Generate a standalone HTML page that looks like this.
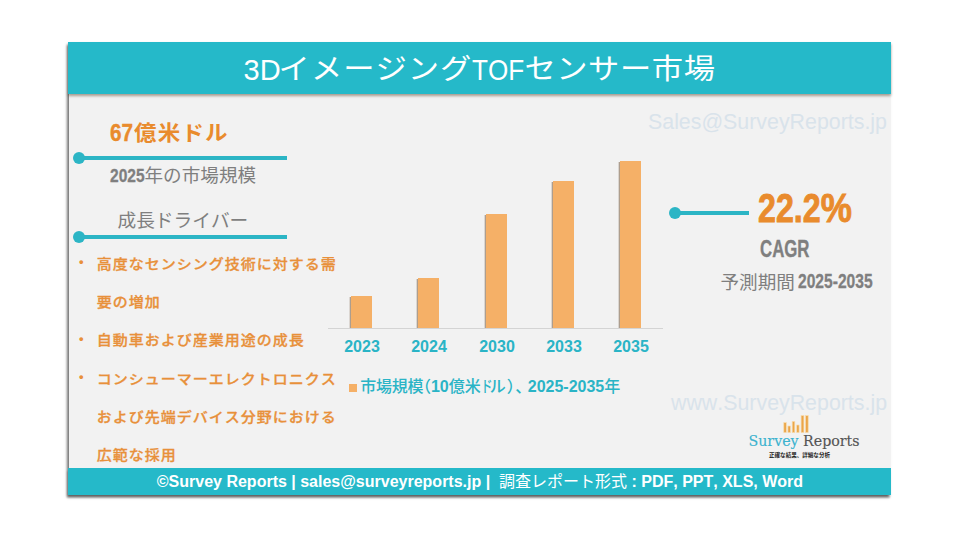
<!DOCTYPE html>
<html lang="ja">
<head>
<meta charset="utf-8">
<title>3DイメージングTOFセンサー市場</title>
<style>
html,body{margin:0;padding:0;}
body{width:960px;height:540px;background:#fff;position:relative;overflow:hidden;
  font-family:"Liberation Sans","Noto Sans CJK JP",sans-serif;}
.abs{position:absolute;white-space:nowrap;line-height:1;text-spacing-trim:space-all;font-kerning:none;}
#card{position:absolute;left:69px;top:42px;width:822px;height:452px;background:#f2f2f2;
  box-shadow:-2px 2.5px 2.5px rgba(0,0,0,.55);}
#titlebar{position:absolute;left:-.8px;top:0;width:822.8px;height:51.5px;background:#25b9c9;
  box-shadow:0 2px 2.5px rgba(60,30,0,.4);}
#footer{position:absolute;left:-.7px;top:426.2px;width:822.7px;height:26.6px;background:#25b9c9;box-shadow:-1px 2.5px 2px rgba(0,0,0,.22);}
#title{left:243.6px;top:54.1px;color:#fff;font-size:31.3px;letter-spacing:1px;}
#title .j{display:inline-block;transform:scaleY(.915);transform-origin:50% 55%;}
#title .l{font-size:29px;letter-spacing:0;position:relative;top:-.3px;}
.cond{display:inline-block;transform-origin:0 50%;}
.cw{display:inline-block;white-space:nowrap;}
.orange{color:#e98b2d;}
.gray{color:#7f7f7f;}
.teal{color:#2ab4c6;}
.hl{position:absolute;height:4px;background:#2cb5c5;}
.dot{position:absolute;width:12px;height:12px;border-radius:50%;background:#2cb5c5;}
.bar{position:absolute;background:#f5b067;width:21px;}
.bar::before{content:"";position:absolute;left:-2.5px;top:1px;bottom:0;width:2.5px;background:linear-gradient(to left,rgba(90,55,20,.6),rgba(90,55,20,0));}
.yr{font-weight:bold;font-size:16px;color:#2ab4c6;width:60px;text-align:center;top:339px;}
.bl{left:96.7px;font-size:15px;letter-spacing:1px;font-weight:500;color:#e8903a;transform:scaleY(.91);margin-top:0px;-webkit-text-stroke:.3px #e8903a;}
.bd{left:79px;font-size:13px;font-weight:bold;color:#e8903a;margin-top:-.8px;}
.wm{color:#d9e3eb;font-size:22.3px;transform:scaleX(.958);transform-origin:0 50%;}
</style>
</head>
<body>
<div id="card">
  <div id="titlebar"></div>
  <div id="footer"></div>
</div>

<div id="title" class="abs"><span class="cw l" style="width:35px"><span class="cond" style="transform:scaleX(1)">3D</span></span><span class="j">イメージング</span><span class="cw l" style="width:52px"><span class="cond" style="transform:scaleX(.9)">TOF</span></span><span class="j" style="letter-spacing:.55px">センサー市場</span></div>

<!-- left column -->
<div class="abs orange" style="left:110px;top:121.6px;font-size:21px;font-weight:bold;letter-spacing:1.15px;"><span class="cw" style="width:24.3px;font-size:23px;letter-spacing:0;"><span class="cond" style="transform:scaleX(.9);-webkit-text-stroke:.4px #e98b2d">67</span></span><span class="cond" style="transform:scaleX(1.07);position:relative;top:-.9px">億米ドル</span></div>
<div class="hl" style="left:79px;top:156px;width:208px;"></div>
<div class="dot" style="left:73px;top:151.8px;"></div>
<div class="abs gray" style="left:110px;top:166.5px;font-size:18.6px;"><b class="cw" style="width:34.5px;font-size:18.4px"><span class="cond" style="transform:scaleX(.845);-webkit-text-stroke:.3px #7f7f7f">2025</span></b>年の市場規模</div>
<div class="abs gray" style="left:117.5px;top:211.5px;font-size:18.7px;">成長ドライバー</div>
<div class="hl" style="left:79px;top:235px;width:208px;"></div>
<div class="dot" style="left:73px;top:230.9px;"></div>

<div class="abs bd" style="top:256px;">•</div>
<div class="abs bl" style="top:256px;">高度なセンシング技術に対する需</div>
<div class="abs bl" style="top:294.2px;">要の増加</div>
<div class="abs bd" style="top:332.4px;">•</div>
<div class="abs bl" style="top:332.4px;">自動車および産業用途の成長</div>
<div class="abs bd" style="top:370.6px;">•</div>
<div class="abs bl" style="top:370.6px;">コンシューマーエレクトロニクス</div>
<div class="abs bl" style="top:408.8px;">および先端デバイス分野における</div>
<div class="abs bl" style="top:447px;">広範な採用</div>

<!-- chart -->
<div style="position:absolute;left:328px;top:328px;width:335px;height:1px;background:#d4d4d4;"></div>
<div class="bar" style="left:351px;top:296px;height:32px;"></div>
<div class="bar" style="left:418px;top:278px;height:50px;"></div>
<div class="bar" style="left:486px;top:214px;height:114px;"></div>
<div class="bar" style="left:553px;top:181px;height:147px;"></div>
<div class="bar" style="left:620px;top:161px;height:167px;"></div>
<div class="abs yr" style="left:332px;">2023</div>
<div class="abs yr" style="left:399px;">2024</div>
<div class="abs yr" style="left:467px;">2030</div>
<div class="abs yr" style="left:534px;">2033</div>
<div class="abs yr" style="left:601px;">2035</div>
<div style="position:absolute;left:349px;top:384px;width:8px;height:7.5px;background:#f5b067;"></div>
<div class="abs teal" id="lg" style="left:360.2px;top:379px;font-size:16px;font-weight:500;"><span style="letter-spacing:-.2px">市場規模</span><span style="margin-left:-8.5px">（</span><b>10</b>億米<span class="cw" style="width:9px"><span class="cond" style="transform:scaleX(.72)">ド</span></span><span class="cw" style="width:17px"><span class="cond" style="transform:scaleX(1)">ル</span></span><span style="margin-right:-7.5px">）</span><span style="margin-right:-3.5px">、</span><b>2025-2035</b>年</div>

<!-- right column -->
<div class="hl" style="left:675px;top:210.5px;width:74px;"></div>
<div class="dot" style="left:669px;top:206.5px;width:12px;height:12px;"></div>
<div class="abs orange" style="left:757.6px;top:187.2px;font-size:41.5px;font-weight:bold;"><span class="cond" style="transform:scaleX(.775);-webkit-text-stroke:.9px #e98b2d">22.2<span style="display:inline-block;transform:scaleX(1.09);transform-origin:0 50%;margin-left:.6px">%</span></span></div>
<div class="abs gray" style="left:760px;top:238.2px;font-size:23px;font-weight:bold;"><span class="cond" style="transform:scaleX(.73);-webkit-text-stroke:.35px #7f7f7f">CAGR</span></div>
<div class="abs gray" style="left:720.5px;top:272.4px;font-size:18.6px;">予測期間<b class="cw" style="width:76px;margin-left:3.6px;font-size:20px;position:relative;top:-1.3px"><span class="cond" style="transform:scaleX(.78);-webkit-text-stroke:.3px #7f7f7f">2025-2035</span></b></div>

<!-- watermarks -->
<div class="abs wm" style="left:647.5px;top:110.8px;">Sales@SurveyReports.jp</div>
<div class="abs wm" style="left:670.5px;top:392.4px;">www.SurveyReports.jp</div>

<!-- logo -->
<svg class="abs" style="left:780px;top:412px;" width="32" height="24" viewBox="780 412 32 24">
<g fill="#eba548" stroke="#f8dcae" stroke-width=".7">
<rect x="783.8" y="422.6" width="2.5" height="10"/>
<rect x="787.9" y="426" width="2.5" height="6.6"/>
<rect x="792.2" y="421.4" width="2.6" height="11.2"/>
<rect x="796.7" y="425" width="2.4" height="7.6"/>
<rect x="801.1" y="415.6" width="2.8" height="17"/>
<rect x="805.5" y="415.6" width="2.7" height="17"/>
</g></svg>
<div class="abs" style="left:748.5px;top:434px;-webkit-text-stroke:.15px;font-family:'DejaVu Serif','Liberation Serif',serif;font-size:14.2px;"><span style="color:#3bb3cf">Survey</span> <span style="color:#555">Reports</span></div>
<div class="abs" style="left:769px;top:453px;font-size:5.55px;font-weight:bold;color:#222;">正確な結果、詳細な分析</div>

<!-- footer text -->
<div class="abs" style="left:156.8px;top:474.4px;font-size:16px;font-weight:bold;color:#fff;">©Survey Reports | sales@surveyreports.jp |&nbsp; <span style="font-weight:normal">調査レポート形式</span> : PDF, PPT, XLS, Word</div>
</body>
</html>
